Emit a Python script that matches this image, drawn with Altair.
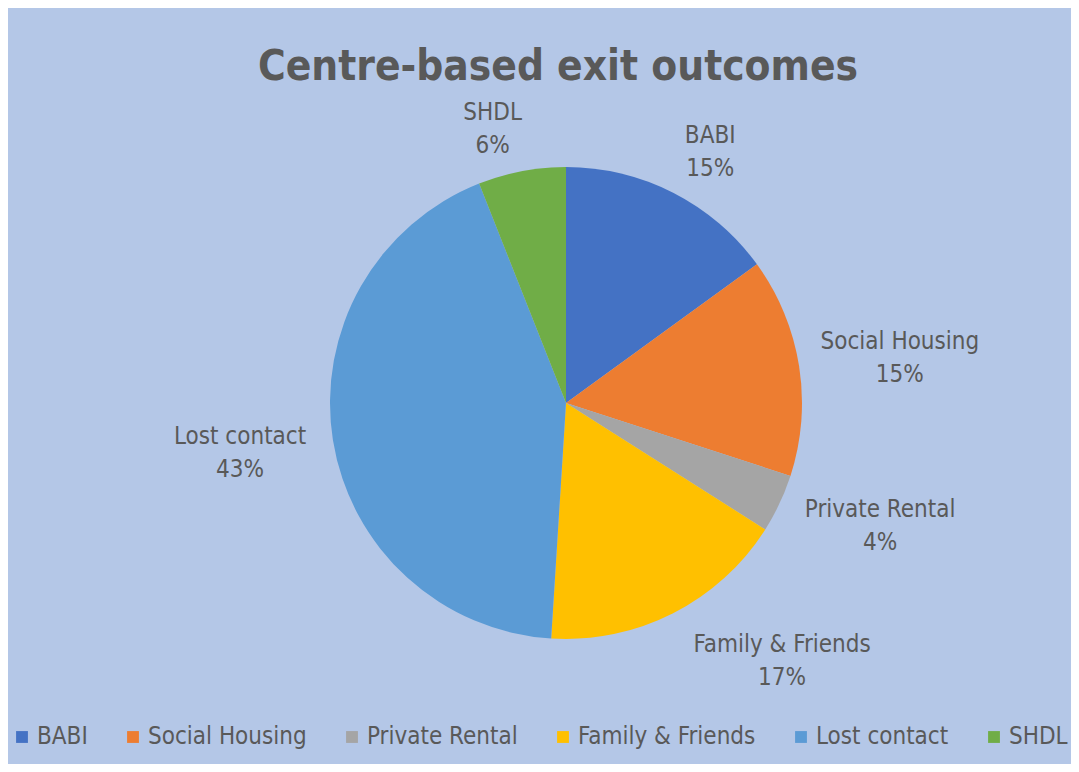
import altair as alt
import pandas as pd

categories = ["BABI", "Social Housing", "Private Rental", "Family & Friends", "Lost contact", "SHDL"]
values = [15, 15, 4, 17, 43, 6]
colors = ["#4472C4", "#ED7D31", "#A5A5A5", "#FFC000", "#5B9BD5", "#70AD47"]

df = pd.DataFrame({"category": categories, "value": values, "order": list(range(len(categories)))})
total = float(sum(values))

FONT = "Liberation Sans Narrow, DejaVu Sans Condensed, Open Sans, sans-serif"
TXT = "#595959"
BG = "#B4C7E7"

theta_scale = alt.Scale(domain=[0, total])

base = alt.Chart(df).transform_calculate(
    label="datum.category + '\\n' + datum.value + '%'"
).transform_window(
    cum="sum(value)", sort=[alt.SortField("order", order="ascending")]
).transform_calculate(
    mid="datum.cum - datum.value / 2"
)

order = alt.Order("order:Q", sort="ascending")

color = alt.Color(
    "category:N",
    scale=alt.Scale(domain=categories, range=colors),
    sort=categories,
    legend=alt.Legend(
        title=None,
        orient="none",
        legendX=-51,
        legendY=617,
        direction="horizontal",
        columns=6,
        symbolType="square",
        symbolSize=140,
        symbolStrokeWidth=0,
        labelFontSize=24,
        labelFont=FONT,
        labelColor=TXT,
        labelLimit=0,
        columnPadding=33,
        labelOffset=3,
    ),
)

pie = base.mark_arc(outerRadius=236).encode(
    theta=alt.Theta("value:Q", stack=True, scale=theta_scale), color=color, order=order
)


def label_layer(names, radius, dx=0, dy=0):
    return base.transform_filter(
        alt.FieldOneOfPredicate(field="category", oneOf=names)
    ).mark_text(
        radius=radius, dx=dx, dy=dy, fontSize=24, font=FONT, color=TXT,
        lineBreak="\n", lineHeight=33, align="center", baseline="middle",
    ).encode(theta=alt.Theta("mid:Q", stack=None, scale=theta_scale), text="label:N")


labels = alt.layer(
    label_layer(["BABI"], 300, dx=8),
    label_layer(["SHDL"], 285, dx=-20, dy=-10),
    label_layer(["Social Housing"], 338, dy=-8),
    label_layer(["Lost contact"], 330, dy=-18),
    label_layer(["Private Rental"], 335, dx=11, dy=-36),
    label_layer(["Family & Friends"], 335, dx=64, dy=-56),
)

chart = alt.layer(pie, labels).properties(
    width=1010,
    height=590,
    padding={"left": 53, "right": 0, "top": 100, "bottom": 66},
    autosize=alt.AutoSizeParams(type="none"),
    background=BG,
    title=alt.Title(
        "Centre-based exit outcomes",
        fontSize=42,
        font=FONT,
        fontWeight="bold",
        color=TXT,
        anchor="middle",
        frame="group",
        offset=12,
        dx=-8,
    ),
).configure_view(stroke=None)

chart.save("out.html", embed_options={"renderer": "svg", "actions": False})
